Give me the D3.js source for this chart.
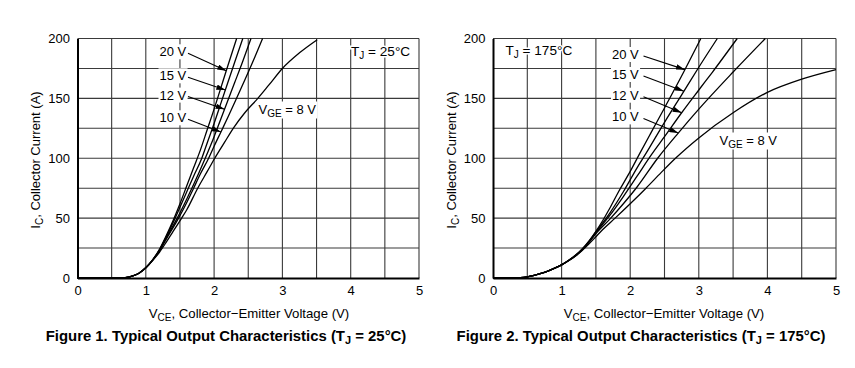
<!DOCTYPE html>
<html><head><meta charset="utf-8">
<script src="https://cdn.jsdelivr.net/npm/d3@7/dist/d3.min.js"></script>
<style>
body{margin:0;background:#fff}
svg{display:block}
text{font-family:"Liberation Sans",Arial,Helvetica,sans-serif;fill:#000}
</style>
</head><body>
<svg id="c" width="855" height="368"></svg>
<script>
// ---------- data ----------
const xTicks = [0, 1, 2, 3, 4, 5];
const yTicks = [0, 50, 100, 150, 200];
const xGrid = [0.5, 1, 1.5, 2, 2.5, 3, 3.5, 4, 4.5, 5];
const yGrid = [25, 50, 75, 100, 125, 150, 175, 200];
const vgeLabels = ["20 V", "15 V", "12 V", "10 V"];

// Figure 1, TJ = 25 °C : [VCE (V), IC (A)]
const ic25_20V = [[0,0],[0.55,0],[0.7,0.3],[0.8,1.5],[0.9,4],[1.0,8.5],[1.1,15.2],[1.2,24],[1.3,35.5],[1.4,48],[1.5,62],[1.6,77],[1.7,92],[1.8,107],[1.9,124],[2.0,141],[2.1,159],[2.2,177],[2.33,200]];
const ic25_15V = [[0,0],[0.55,0],[0.7,0.3],[0.8,1.5],[0.9,4],[1.0,8.5],[1.1,15.1],[1.2,23.5],[1.3,34.5],[1.43,50],[1.5,59],[1.6,72],[1.7,85],[1.82,100],[1.9,113],[2.0,129],[2.1,146],[2.2,163],[2.3,180],[2.42,200]];
const ic25_12V = [[0,0],[0.55,0],[0.7,0.3],[0.8,1.5],[0.9,4],[1.0,8.5],[1.1,15],[1.2,23],[1.3,33.5],[1.46,50],[1.6,66],[1.7,78],[1.87,100],[2.0,118],[2.1,133],[2.2,148],[2.3,163],[2.42,181],[2.54,200]];
const ic25_10V = [[0,0],[0.55,0],[0.7,0.3],[0.8,1.5],[0.9,4],[1.0,8.5],[1.1,14.9],[1.2,22.5],[1.3,32.5],[1.48,50],[1.6,63],[1.7,75],[1.8,87],[1.92,100],[2.0,110],[2.1,122],[2.2,134],[2.4,159],[2.6,185],[2.71,200]];
const ic25_8V  = [[0,0],[0.55,0],[0.7,0.3],[0.8,1.5],[0.9,4],[1.0,8.5],[1.1,14.6],[1.2,21.5],[1.3,30],[1.4,39],[1.525,50],[1.6,57],[1.76,75],[1.9,89],[2.01,100],[2.15,113],[2.28,125],[2.45,138],[2.64,150],[2.8,161],[3.0,175],[3.25,188],[3.51,199]];
const arrowIc25 = [173, 157, 141, 122];

// Figure 2, TJ = 175 °C : [VCE (V), IC (A)]
const ic175_20V = [[0,0],[0.3,0],[0.4,0.3],[0.5,1],[0.6,2.2],[0.7,3.8],[0.8,5.8],[0.9,8.2],[1.0,11],[1.1,14.6],[1.2,18.9],[1.3,24.3],[1.4,31],[1.5,39],[1.6,48],[1.7,58],[1.83,72],[2.0,89],[2.13,103],[2.3,121],[2.5,142],[2.78,172],[3.03,200]];
const ic175_15V = [[0,0],[0.3,0],[0.4,0.3],[0.5,1],[0.6,2.2],[0.7,3.8],[0.8,5.8],[0.9,8.2],[1.0,11],[1.1,14.55],[1.2,18.8],[1.3,24],[1.4,30.6],[1.5,38.5],[1.7,54],[1.9,72],[2.1,92],[2.23,104],[2.5,130],[2.75,153],[3.0,176],[3.27,200]];
const ic175_12V = [[0,0],[0.3,0],[0.4,0.3],[0.5,1],[0.6,2.2],[0.7,3.8],[0.8,5.8],[0.9,8.2],[1.0,11],[1.1,14.5],[1.2,18.6],[1.3,23.7],[1.4,30.2],[1.5,37.8],[1.7,52],[1.9,68],[2.1,85],[2.31,103],[2.5,118],[2.75,138],[3.0,157],[3.2,172],[3.56,200]];
const ic175_10V = [[0,0],[0.3,0],[0.4,0.3],[0.5,1],[0.6,2.2],[0.7,3.8],[0.8,5.8],[0.9,8.2],[1.0,11],[1.1,14.45],[1.2,18.4],[1.3,23.4],[1.4,29.7],[1.5,37],[1.7,49],[1.9,62],[2.1,76],[2.4,100],[2.7,121],[3.0,141],[3.5,172],[3.97,200]];
const ic175_8V  = [[0,0],[0.3,0],[0.4,0.3],[0.5,1],[0.6,2.2],[0.7,3.8],[0.8,5.8],[0.9,8.2],[1.0,11],[1.1,14.4],[1.2,18.2],[1.3,22.9],[1.4,28.5],[1.5,34.5],[1.6,40.5],[1.78,50],[2.0,62],[2.23,75],[2.45,88],[2.66,100],[3.0,117],[3.5,138],[4.0,155],[4.5,166],[5.0,174]];
const arrowIc175 = [174, 156, 138, 121];

// ---------- drawing ----------
const svg = d3.select("#c");
const defs = svg.append("defs");
defs.append("marker").attr("id","ah").attr("viewBox","0 0 10 6")
  .attr("refX",10).attr("refY",3).attr("markerWidth",9).attr("markerHeight",5.4)
  .attr("markerUnits","userSpaceOnUse").attr("orient","auto")
  .append("path").attr("d","M0,0 L10,3 L0,6 Z").attr("fill","#000");

function vAtI(series, ic){
  for (let i=1;i<series.length;i++){
    const a=series[i-1], b=series[i];
    if (ic>=a[1] && ic<=b[1]) return a[0] + (ic-a[1])/(b[1]-a[1])*(b[0]-a[0]);
  }
  return series[series.length-1][0];
}

function addBg(g, textSel, pad){
  const bb = textSel.node().getBBox();
  g.insert("rect", () => textSel.node())
    .attr("x", bb.x - pad).attr("y", bb.y).attr("width", bb.width + 2*pad).attr("height", bb.height)
    .attr("fill", "#fff");
}

function drawChart(cfg){
  const g = svg.append("g");
  const x = d3.scaleLinear().domain([0,5]).range(cfg.xr);
  const y = d3.scaleLinear().domain([0,200]).range([278, 38.5]);

  // grid
  g.append("g").selectAll("line").data(xGrid).join("line")
    .attr("x1", d=>x(d)).attr("x2", d=>x(d)).attr("y1", y(0)).attr("y2", y(200))
    .attr("stroke", "#3a3a3a").attr("stroke-width", 1.1);
  g.append("g").selectAll("line").data(yGrid).join("line")
    .attr("x1", x(0)).attr("x2", x(5)).attr("y1", d=>y(d)).attr("y2", d=>y(d))
    .attr("stroke", "#3a3a3a").attr("stroke-width", 1.1);

  // axes
  const ax = g.append("g").attr("transform", `translate(0,${y(0)})`)
    .call(d3.axisBottom(x).tickValues(xTicks).tickFormat(d3.format("d")).tickSize(0).tickPadding(8));
  const ay = g.append("g").attr("transform", `translate(${x(0)},0)`)
    .call(d3.axisLeft(y).tickValues(yTicks).tickSize(0).tickPadding(7.5));
  [ax, ay].forEach(a => {
    a.select(".domain").attr("stroke","#000").attr("stroke-width",2);
    a.selectAll("text").attr("font-size","13px").attr("font-family",'"Liberation Sans",Arial,sans-serif').attr("fill","#000");
  });

  // labels with white backgrounds
  const labG = g.append("g");
  cfg.labY.forEach((by, i) => {
    const t = labG.append("text").attr("x", cfg.labX).attr("y", by).attr("font-size","13px").text(vgeLabels[i]);
    addBg(labG, t, 1);
  });
  const vge = labG.append("text").attr("x", cfg.vgeX).attr("y", cfg.vgeY).attr("font-size","13px");
  vge.append("tspan").text("V");
  vge.append("tspan").text("GE").attr("font-size","10px").attr("dy",3);
  vge.append("tspan").text(" = 8 V").attr("dy",-3);
  addBg(labG, vge, 1);

  const tj = labG.append("text").attr("x", cfg.tjX).attr("y", cfg.tjY).attr("font-size","13.6px")
    .attr("stroke","#fff").attr("stroke-width",3).attr("paint-order","stroke");
  tj.append("tspan").text("T");
  tj.append("tspan").text("J").attr("font-size","10px").attr("dy",3);
  tj.append("tspan").text(" = " + cfg.tjText).attr("dy",-3);

  // curves
  const line = d3.line().x(d=>x(d[0])).y(d=>y(d[1])).curve(d3.curveMonotoneX);
  g.append("g").selectAll("path").data(cfg.series).join("path")
    .attr("d", line).attr("fill","none").attr("stroke","#000").attr("stroke-width",1.3);

  // arrows
  cfg.arrowIc.forEach((ic, i) => {
    const s = cfg.series[i];
    const tx = x(vAtI(s, ic)), ty = y(ic);
    g.append("line").attr("x1", cfg.arrX).attr("y1", cfg.labY[i]-3)
      .attr("x2", tx).attr("y2", ty).attr("stroke","#000").attr("stroke-width",1.1)
      .attr("marker-end","url(#ah)");
  });

  // y title
  const yt = g.append("text").attr("transform", `translate(${cfg.ytX},160) rotate(-90)`)
    .attr("text-anchor","middle").attr("font-size","13px");
  yt.append("tspan").text("I");
  yt.append("tspan").text("C").attr("font-size","10px").attr("dy",3);
  yt.append("tspan").text(", Collector Current (A)").attr("dy",-3);

  // x title
  const xt = g.append("text").attr("x", cfg.xtX).attr("y", 318).attr("text-anchor","middle").attr("font-size","13.2px");
  xt.append("tspan").text("V");
  xt.append("tspan").text("CE").attr("font-size","10px").attr("dy",3);
  xt.append("tspan").text(", Collector\u2212Emitter Voltage (V)").attr("dy",-3);

  // caption
  const cap = g.append("text").attr("x", cfg.capX).attr("y", 341).attr("text-anchor","middle")
    .attr("font-size","14.9px").attr("font-weight","bold");
  cap.append("tspan").text(cfg.capText + " (T");
  cap.append("tspan").text("J").attr("font-size","11px").attr("dy",3);
  cap.append("tspan").text(" = " + cfg.tjText + ")").attr("dy",-3);
}

drawChart({
  xr:[77.5, 419],
  series:[ic25_20V, ic25_15V, ic25_12V, ic25_10V, ic25_8V],
  arrowIc: arrowIc25,
  labX:159.5, labY:[56.3, 80.3, 99.6, 122.3], arrX:188,
  vgeX:258.5, vgeY:113.5,
  tjX:351, tjY:56, tjText:"25\u00B0C",
  ytX:40, xtX:249, capX:226, capText:"Figure 1. Typical Output Characteristics"
});
drawChart({
  xr:[493, 836],
  series:[ic175_20V, ic175_15V, ic175_12V, ic175_10V, ic175_8V],
  arrowIc: arrowIc175,
  labX:612, labY:[59, 79, 99.7, 121.4], arrX:643.5,
  vgeX:719.5, vgeY:144.5,
  tjX:505.5, tjY:55, tjText:"175\u00B0C",
  ytX:456, xtX:664, capX:641, capText:"Figure 2. Typical Output Characteristics"
});
</script>
</body></html>
